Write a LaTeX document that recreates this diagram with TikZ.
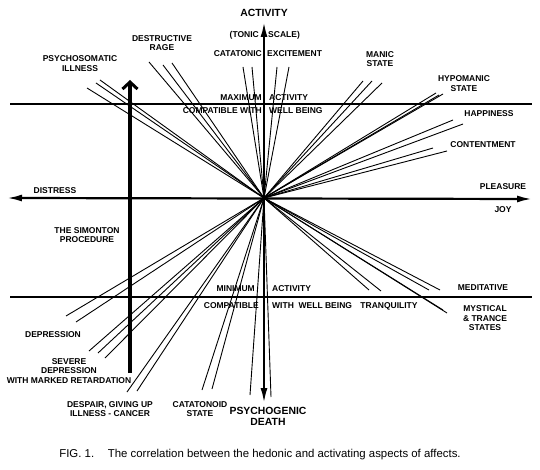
\documentclass[tikz,border=0pt]{standalone}
\usepackage{fontspec}
\setmainfont{Liberation Sans}
\usetikzlibrary{arrows.meta}
\begin{document}
\begin{tikzpicture}[x=1pt,y=-1pt,
  lbl/.style={font=\bfseries\fontsize{8.5}{9.5}\selectfont, align=center, inner sep=0pt},
  big/.style={font=\bfseries\fontsize{10.4}{11.5}\selectfont, align=center, inner sep=0pt},
  fan/.style={line width=0.9pt},
  axis/.style={line width=2.2pt},
  guide/.style={line width=1.3pt},
  tip/.style={{Latex[length=15pt,width=7pt]}-{Latex[length=15pt,width=7pt]}}]
\useasboundingbox[fill=white] (0,0) rectangle (540,470);

% guide lines
\coordinate (gul) at (10,104);  \coordinate (gur) at (532,104);
\coordinate (gll) at (10,297);  \coordinate (glr) at (532,297);
\draw[guide] (gul) -- (gur);
\draw[guide] (gll) -- (glr);

% centre
\coordinate (O) at (264,198);

% fan lines
\foreach \x/\y [count=\i] in {87/88,96/83,100/80,149/62,163/65,172/63,243/67,252/67,
  277/67,289/67,363/81,372/81,382/83,436/93,439/95,443/94,453/120,463/124,433/148,447/151,
  369/290,381/291,429/290,440/290,443/310,447/313,
  66/316,76/322,89/351,98/353,105/358,127/392,137/391,202/390,212/389,250/395,271/397}
  {\coordinate (f\i) at (\x,\y);
   \draw[fan] (O) -- (f\i);}

% axes
\coordinate (vt) at (264,22); \coordinate (vb) at (264,403);
\coordinate (hl) at (7,198);  \coordinate (hr) at (532,199);
\draw[axis,tip] (vt) -- (vb);
\draw[axis,tip] (hl) -- (hr);

% Simonton arrow
\coordinate (sb) at (130,373); \coordinate (st) at (130,80);
\draw[line width=3.2pt,-{Straight Barb[length=7pt,width=15pt,line width=3pt]}] (sb) -- (st);

% labels
\node[big] (act) at (264,13) {ACTIVITY};
\node[lbl,anchor=east] (ton) at (259,35) {(TONIC};
\node[lbl,anchor=west] (sca) at (268,35) {SCALE)};
\node[lbl,anchor=east] (cat) at (262,54) {CATATONIC};
\node[lbl,anchor=west] (exc) at (267,54) {EXCITEMENT};
\node[lbl,anchor=east] (max) at (262,98) {MAXIMUM};
\node[lbl,anchor=west] (maxa) at (269,98) {ACTIVITY};
\node[lbl,anchor=east] (cw) at (262,111) {COMPATIBLE WITH};
\node[lbl,anchor=west] (wb) at (269,111) {WELL BEING};
\node[lbl] (rage) at (162,43) {DESTRUCTIVE\\RAGE};
\node[lbl] (psy) at (80,63.5) {PSYCHOSOMATIC\\ILLNESS};
\node[lbl] (man) at (380,59) {MANIC\\STATE};
\node[lbl] (hyp) at (464,83.5) {HYPOMANIC\\STATE};
\node[lbl] (hap) at (489,114) {HAPPINESS};
\node[lbl] (con) at (483,145) {CONTENTMENT};
\node[lbl] (ple) at (503,187) {PLEASURE};
\node[lbl] (joy) at (503,210) {JOY};
\node[lbl] (dis) at (55,191) {DISTRESS};
\node[lbl] (sim) at (87,235) {THE SIMONTON\\PROCEDURE};
\node[lbl,anchor=east] (min) at (255,289) {MINIMUM};
\node[lbl,anchor=west] (mina) at (272,289) {ACTIVITY};
\node[lbl,anchor=east] (comp) at (259,306) {COMPATIBLE};
\node[lbl,anchor=west] (wwb) at (272,306) {WITH\ \ WELL BEING};
\node[lbl] (tra) at (389,306) {TRANQUILITY};
\node[lbl] (med) at (483,288) {MEDITATIVE};
\node[lbl] (mys) at (485,318.5) {MYSTICAL\\\& TRANCE\\STATES};
\node[lbl] (dep) at (53,335) {DEPRESSION};
\node[lbl] (sev) at (69,371) {SEVERE\\DEPRESSION\\WITH MARKED RETARDATION};
\node[lbl] (desp) at (110,409) {DESPAIR, GIVING UP\\ILLNESS - CANCER};
\node[lbl] (catd) at (200,409) {CATATONOID\\STATE};
\node[big] (death) at (268,416.5) {PSYCHOGENIC\\DEATH};
\node[font=\fontsize{11.4}{13}\selectfont, inner sep=0pt] (cap) at (260,455)
  {FIG. 1.\hspace{1.2em}The correlation between the hedonic and activating aspects of affects.};
\end{tikzpicture}
\end{document}
